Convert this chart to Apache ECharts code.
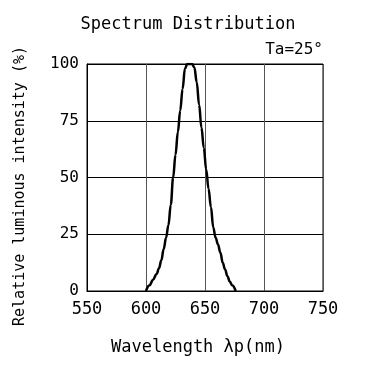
<!DOCTYPE html>
<html>
<head>
<meta charset="utf-8">
<script src="https://cdn.jsdelivr.net/npm/echarts@6/dist/echarts.min.js"></script>
<style>
  html, body { margin: 0; padding: 0; background: #fff; }
  #chart { width: 376px; height: 387px; }
</style>
</head>
<body>
<div id="chart"></div>
<script>
// wavelength (nm) / relative intensity (%)
const wavelength = [600, 603, 606, 609, 611, 613, 615, 617, 619, 621, 623, 625, 627, 629, 631, 633, 635, 637, 639, 641, 643, 645, 647, 649, 651, 653, 655, 657, 659, 661, 663, 665, 667, 669, 671, 673, 676]
const intensity  = [0, 2.5, 5, 7.5, 10, 13.5, 18.5, 23.5, 29, 38, 50, 60, 70, 79.5, 89, 98, 100, 100, 100, 98.5, 92, 82, 72, 63, 53.5, 45, 37, 28, 23.5, 20.5, 17, 12.5, 9.5, 6.5, 4.2, 2.5, 0]
const xTicks = [550, 600, 650, 700, 750]
const yTicks = [0, 25, 50, 75, 100]

const chart = echarts.init(document.getElementById('chart'))
const font = 'DejaVu Sans Mono'

const option = {
  animation: false,
  grid: {
    left: 87, right: 53, top: 64, bottom: 96,
    show: true, borderColor: '#000', borderWidth: 1
  },
  xAxis: {
    type: 'value',
    min: xTicks[0], max: xTicks[xTicks.length - 1], interval: 50,
    axisLine: { lineStyle: { color: '#000' } },
    axisTick: { show: false },
    splitLine: { lineStyle: { color: '#555', width: 1 } },
    axisLabel: { color: '#000', fontFamily: font, fontSize: 17, margin: 10 }
  },
  yAxis: {
    type: 'value',
    min: yTicks[0], max: yTicks[yTicks.length - 1], interval: 25,
    axisLine: { show: true, lineStyle: { color: '#000' } },
    axisTick: { show: false },
    splitLine: { lineStyle: { color: '#000', width: 1 } },
    axisLabel: { color: '#000', fontFamily: font, fontSize: 16, margin: 8 }
  },
  graphic: [
    { type: 'text', left: 'center', top: 16, style: { text: 'Spectrum Distribution', font: '17px "DejaVu Sans Mono"', fill: '#000' } },
    { type: 'text', right: 53, top: 42, style: { text: 'Ta=25°', font: '16px "DejaVu Sans Mono"', fill: '#000' } },
    { type: 'text', x: 198, y: 348, style: { text: 'Wavelength λp(nm)', font: '17px "DejaVu Sans Mono"', fill: '#000', align: 'center', verticalAlign: 'middle' } },
    { type: 'text', x: 20, y: 186, rotation: Math.PI / 2, style: { text: 'Relative luminous intensity (%)', font: '15px "DejaVu Sans Mono"', fill: '#000', align: 'center', verticalAlign: 'middle' } }
  ],
  series: [{
    type: 'line',
    data: wavelength.map((w, i) => [w, intensity[i]]),
    smooth: 0.4,
    smoothMonotone: 'x',
    symbol: 'none',
    lineStyle: { color: '#000', width: 2.5 }
  }]
}

chart.setOption(option)
</script>
</body>
</html>
